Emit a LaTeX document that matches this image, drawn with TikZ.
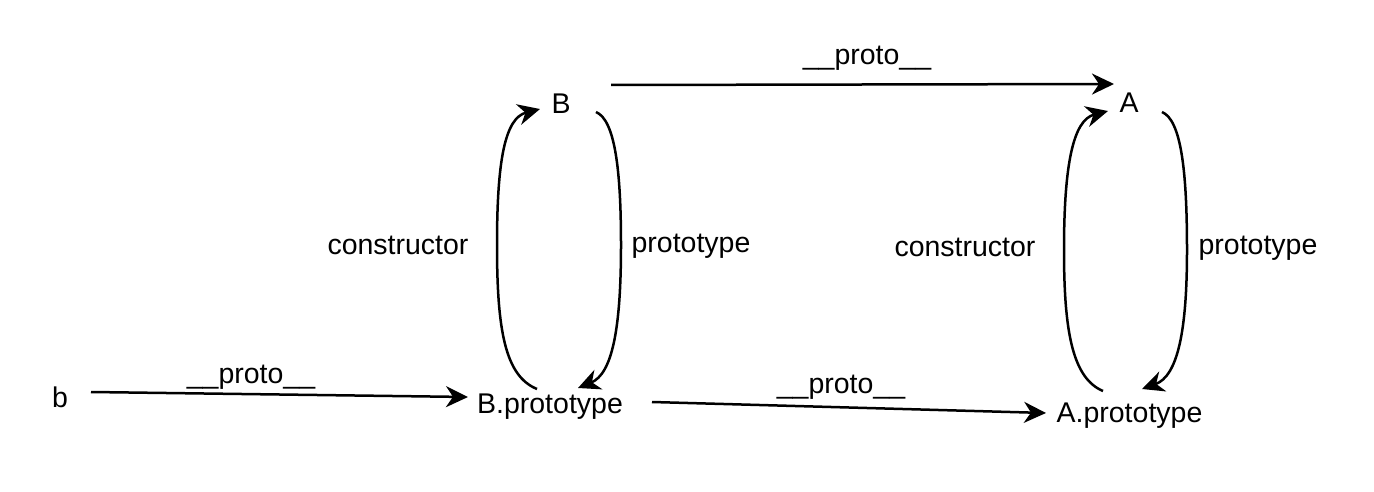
\documentclass[tikz,border=0pt]{standalone}
\usepackage{fontspec}
\setmainfont{Liberation Sans}
\usetikzlibrary{arrows.meta}
\begin{document}
\begin{tikzpicture}[x=1pt,y=-1pt,
  lbl/.style={inner sep=0pt,anchor=base,font=\fontsize{28.5}{32}\selectfont},
  link/.style={line width=2.5pt,-{Stealth[length=22pt,width=21pt,inset=7pt]}}]
\useasboundingbox (0,0) rectangle (1374,492);
% objects
\node[lbl] (b) at (60,407) {b};
\node[lbl] (B) at (561,114) {B};
\node[lbl] (A) at (1129,113) {A};
\node[lbl] (Bp) at (550,413) {B.prototype};
\node[lbl] (Ap) at (1129.5,422) {A.prototype};
% labels
\node[lbl] (l1) at (867,65) {\_\_proto\_\_};
\node[lbl] (l2) at (251,383) {\_\_proto\_\_};
\node[lbl] (l3) at (841,393) {\_\_proto\_\_};
\node[lbl] (c1) at (398,254) {constructor};
\node[lbl] (p1) at (691,252) {prototype};
\node[lbl] (c2) at (965,256) {constructor};
\node[lbl] (p2) at (1258,254) {prototype};
% coordinates for connector ends
\coordinate (bR) at (91,392);
\coordinate (BpL) at (468,397);
\coordinate (BpR) at (652,402);
\coordinate (ApL) at (1046,413);
\coordinate (BR) at (611,85);
\coordinate (AL) at (1114,84);
% straight connectors
\draw[link] (bR) -- (BpL);
\draw[link] (BpR) -- (ApL);
\draw[link] (BR) -- (AL);
% loops B
\draw[link] (537,389) .. controls (505,376) and (497,330) .. (497,245)
  .. controls (497,160) and (505,118) .. (540,109);
\draw[link] (596,112) .. controls (615,120) and (621,170) .. (621,245)
  .. controls (621,330) and (612,374) .. (578,388);
% loops A
\draw[link] (1103,391) .. controls (1072,378) and (1064,330) .. (1064,250)
  .. controls (1064,165) and (1073,120) .. (1108,111);
\draw[link] (1162,112) .. controls (1181,120) and (1187,170) .. (1187,250)
  .. controls (1187,330) and (1178,376) .. (1142,389);
\end{tikzpicture}
\end{document}
